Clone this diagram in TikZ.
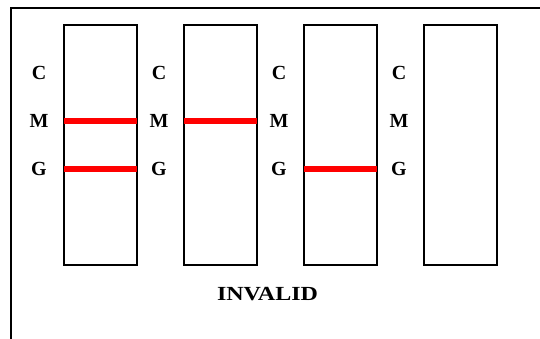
\documentclass[tikz,border=0pt]{standalone}
\usepackage{fontspec}
\usepackage{graphicx}
\setmainfont{Liberation Serif}
\begin{document}
\begin{tikzpicture}[x=1pt,y=-1pt,
  frame/.style={line width=2pt,black},
  strip/.style={draw=black,line width=1.6pt,minimum width=73pt,minimum height=240pt,inner sep=0pt,anchor=north west},
  band/.style={red,line width=6pt},
  lbl/.style={font=\fontsize{20}{22}\selectfont\bfseries,inner sep=0pt}]
\useasboundingbox (0,0) rectangle (540,339);
\coordinate (tl) at (11,8);
\coordinate (tr) at (540,8);
\coordinate (bl) at (11,339);
\draw[frame] (tr) -- (tl) -- (bl);
\foreach \k in {0,1,2,3}{
  \node[strip] (s\k) at (63+120*\k,24) {};
  \node[lbl] (c\k) at (39+120*\k,73) {C};
  \node[lbl] (m\k) at (39+120*\k,121) {M};
  \node[lbl] (g\k) at (39+120*\k,169) {G};
}
\foreach \k/\yy in {0/121,0/169,1/121,2/169}{
  \coordinate (bl\k\yy) at ([xshift=1pt]s\k.west |- 0,\yy);
  \coordinate (br\k\yy) at ([xshift=-1pt]s\k.east |- 0,\yy);
  \draw[band] (bl\k\yy) -- (br\k\yy);
}
\node[lbl] (inv) at (267.5,294) {\scalebox{1.2}[1]{INVALID}};
\end{tikzpicture}
\end{document}
